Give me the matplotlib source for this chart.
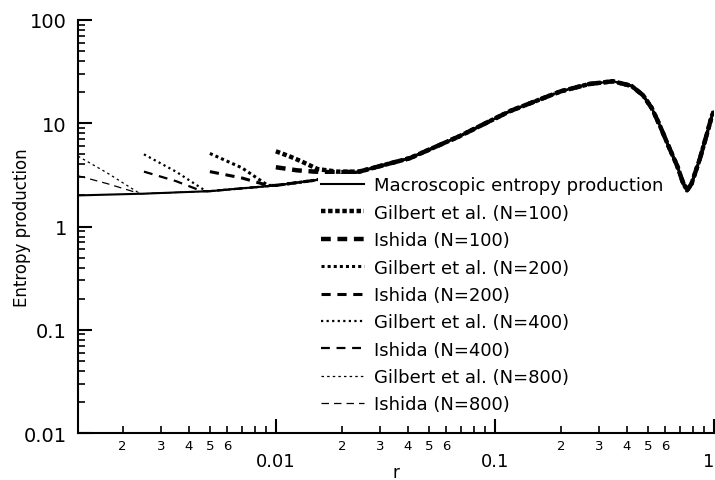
import numpy as np
import matplotlib
matplotlib.use("Agg")
from matplotlib import pyplot as plt
from matplotlib.ticker import FixedLocator, FuncFormatter, NullFormatter

# macroscopic entropy production
r_macro = [0.00125, 0.0025, 0.005, 0.01, 0.015, 0.024, 0.041, 0.069, 0.117,
           0.2, 0.27, 0.346, 0.42, 0.474, 0.52, 0.566, 0.62, 0.678, 0.72,
           0.753, 0.79, 0.863, 0.93, 0.98, 1.0]
s_macro = [2.0, 2.08, 2.2, 2.5, 2.8, 3.4, 4.6, 7.5, 13.1,
           20.4, 24.0, 25.5, 23.0, 18.7, 14.0, 9.5, 6.0, 3.9, 2.7,
           2.24, 2.6, 4.57, 8.0, 12.0, 13.0]

# finite-N curves: start of each curve, before it meets the macroscopic one
r_gil100 = [0.01, 0.0115, 0.013, 0.0155, 0.019, 0.024]
s_gil100 = [5.35, 4.8, 4.3, 3.6, 3.4, 3.4]
r_ish100 = [0.01, 0.0125, 0.015, 0.019, 0.024]
s_ish100 = [3.75, 3.5, 3.4, 3.35, 3.4]
r_gil200 = [0.005, 0.007, 0.0092]
s_gil200 = [5.1, 3.7, 2.5]
r_ish200 = [0.005, 0.007, 0.0092]
s_ish200 = [3.4, 2.95, 2.5]
r_gil400 = [0.0025, 0.0035, 0.0048]
s_gil400 = [5.0, 3.4, 2.2]
r_ish400 = [0.0025, 0.0035, 0.0046]
s_ish400 = [3.4, 2.75, 2.2]
r_gil800 = [0.00125, 0.0017, 0.0024]
s_gil800 = [4.8, 3.3, 2.08]
r_ish800 = [0.00125, 0.0017, 0.0024]
s_ish800 = [3.1, 2.6, 2.08]


def with_tail(r, s):
    # after meeting, the curve follows the macroscopic one
    r_end = r[-1]
    rr = list(r) + [x for x in r_macro if x > r_end]
    ss = list(s) + [y for x, y in zip(r_macro, s_macro) if x > r_end]
    return rr, ss


plt.rcParams["font.family"] = "DejaVu Sans"

fig = plt.figure(figsize=(7.15, 4.81), dpi=100)
ax = fig.add_axes([78 / 715, 1 - 434 / 481, 636 / 715, 413 / 481])

ax.plot(r_macro, s_macro, color="k", lw=1.5, ls="-",
        label="Macroscopic entropy production")

series = [
    (r_gil100, s_gil100, 3.2, (0, (1, 0.6)), "Gilbert et al. (N=100)"),
    (r_ish100, s_ish100, 3.2, (0, (2.2, 1.5)), "Ishida (N=100)"),
    (r_gil200, s_gil200, 2.2, (0, (1, 1.0)), "Gilbert et al. (N=200)"),
    (r_ish200, s_ish200, 2.2, (0, (3, 2.2)), "Ishida (N=200)"),
    (r_gil400, s_gil400, 1.6, (0, (1, 1.5)), "Gilbert et al. (N=400)"),
    (r_ish400, s_ish400, 1.6, (0, (4, 3)), "Ishida (N=400)"),
    (r_gil800, s_gil800, 0.9, (0, (2, 2.5)), "Gilbert et al. (N=800)"),
    (r_ish800, s_ish800, 0.9, (0, (6, 4)), "Ishida (N=800)"),
]
for r, s, lw, ls, lab in series:
    rr, ss = with_tail(r, s)
    ax.plot(rr, ss, color="k", lw=lw, ls=ls, label=lab, dash_capstyle="butt")

ax.set_xscale("log")
ax.set_yscale("log")
ax.set_xlim(0.00125, 1)
ax.set_ylim(0.01, 100)

for side in ["top", "right"]:
    ax.spines[side].set_visible(False)
for side in ["left", "bottom"]:
    ax.spines[side].set_linewidth(1.5)

# x ticks: majors labelled below the minor digits
ax.xaxis.set_major_locator(FixedLocator([0.01, 0.1, 1]))
ax.set_xticklabels(["0.01", "0.1", "1"])
ax.get_xticklabels()[-1].set_horizontalalignment("right")
xminor = [m * 10.0 ** e for e in (-3, -2, -1) for m in range(2, 10)]
ax.xaxis.set_minor_locator(FixedLocator(xminor))


def minor_digit(x, pos):
    m = int(round(x / 10 ** np.floor(np.log10(x) + 1e-9)))
    return str(m) if m <= 6 else ""


ax.xaxis.set_minor_formatter(FuncFormatter(minor_digit))
ax.tick_params(axis="x", which="major", direction="in", length=10, width=1.5,
               pad=14, labelsize=13)
ax.tick_params(axis="x", which="minor", direction="in", length=5, width=1.2,
               pad=4, labelsize=9.5)

ax.yaxis.set_major_locator(FixedLocator([0.01, 0.1, 1, 10, 100]))
ax.set_yticklabels(["0.01", "0.1", "1", "10", "100"])
yminor = [m * 10.0 ** e for e in (-2, -1, 0, 1) for m in range(2, 10)]
ax.yaxis.set_minor_locator(FixedLocator(yminor))
ax.yaxis.set_minor_formatter(NullFormatter())
ax.tick_params(axis="y", which="major", direction="in", length=10, width=1.5,
               pad=8, labelsize=14)
ax.tick_params(axis="y", which="minor", direction="in", length=5, width=1.2)

ax.set_xlabel("r", fontsize=12)
ax.xaxis.set_label_coords(0.5, -0.072)
ax.set_ylabel("Entropy production", fontsize=12)
ax.yaxis.set_label_coords(-0.074, 0.5)

leg = ax.legend(loc="upper left", bbox_to_anchor=(0.378, 0.628), fontsize=13,
                frameon=True, fancybox=False, edgecolor="none",
                facecolor="white", framealpha=1, borderpad=0.15,
                borderaxespad=0, handlelength=2.4, handletextpad=0.55,
                labelspacing=0.52)

plt.savefig("out.png", dpi=100)
